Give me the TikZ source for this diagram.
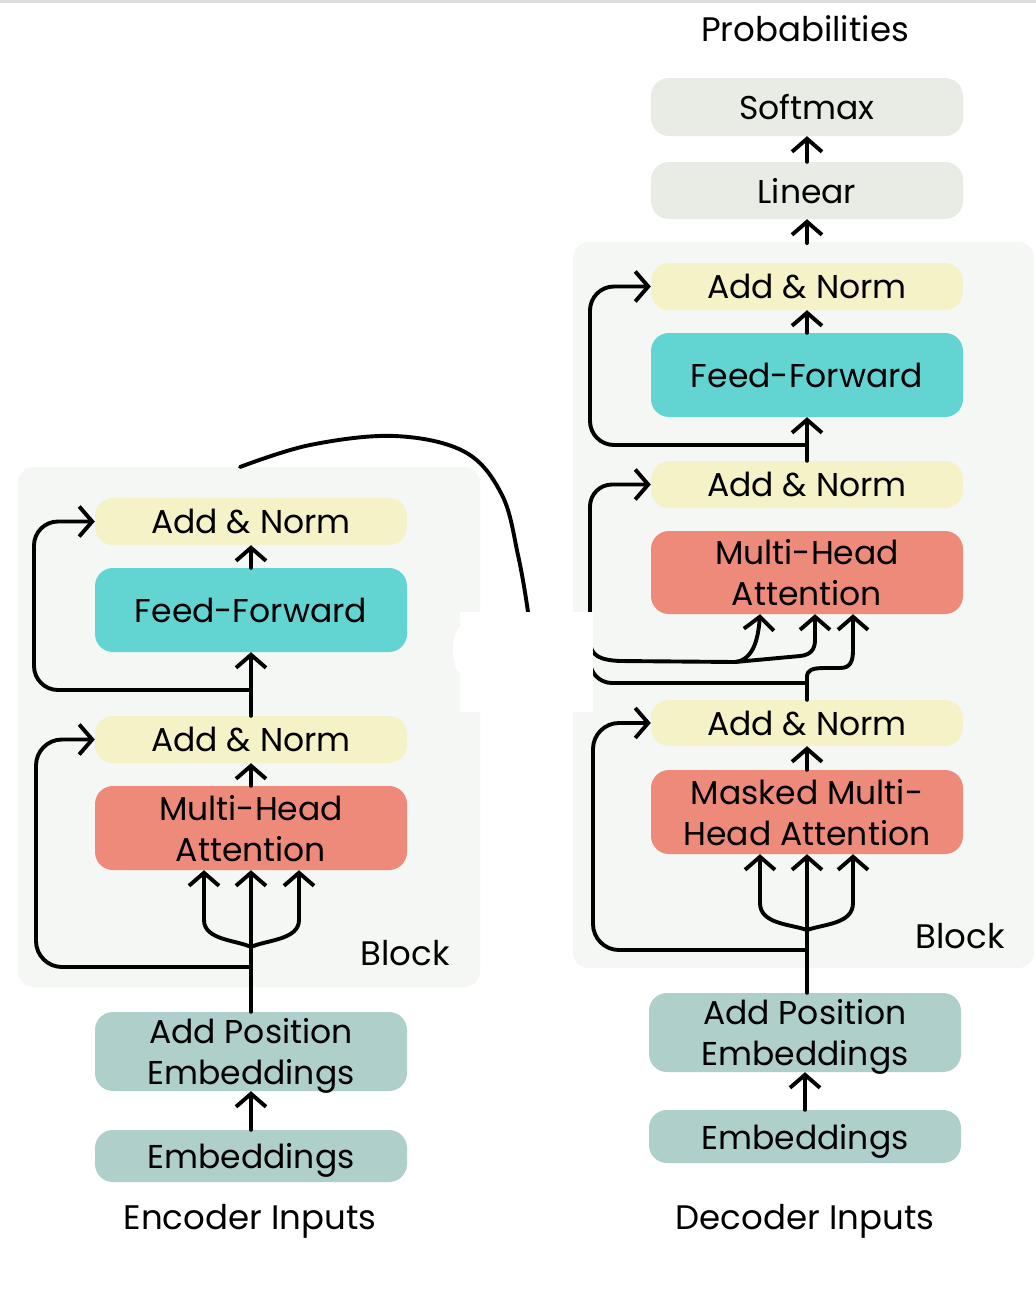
\documentclass[tikz,border=0pt]{standalone}
\usepackage{fontspec}
\setmainfont{Poppins}
\usetikzlibrary{arrows.meta}
\definecolor{panelc}{HTML}{F5F7F4}
\definecolor{creamc}{HTML}{F5F2C8}
\definecolor{cyanc}{HTML}{62D4D2}
\definecolor{salmonc}{HTML}{EE8A7A}
\definecolor{embc}{HTML}{AECFCA}
\definecolor{outc}{HTML}{E9ECE5}
\definecolor{topline}{HTML}{DDDDDD}
\begin{document}
\begin{tikzpicture}[x=1pt,y=-1pt,
  box/.style={rectangle, rounded corners=18pt, minimum width=312pt, inner sep=0pt, align=center, text depth=0pt, font=\fontsize{33}{41}\selectfont, text=black},
  ln/.style={line width=3.9pt, line cap=round, line join=round},
  arr/.style={ln, -{Straight Barb[length=13pt,width=30pt]}},
  lbl/.style={font=\fontsize{34}{40}\selectfont, text depth=0pt, text=black}]
\useasboundingbox (0,0) rectangle (1036,1310);
\fill[white] (0,0) rectangle (1036,1310);
\fill[topline] (0,0) rectangle (1036,3);
% panels
\fill[panelc, rounded corners=16pt] (18,467) rectangle (480,987);
\fill[panelc, rounded corners=16pt] (573,242) rectangle (1034,968);
% encoder boxes
\node[box, fill=creamc, minimum height=47pt] (ean2) at (251,521.5) {Add \& Norm};
\node[box, fill=cyanc, minimum height=84pt] (eff) at (251,610) {Feed-Forward};
\node[box, fill=creamc, minimum height=47pt] (ean1) at (251,739.5) {Add \& Norm};
\node[box, fill=salmonc, minimum height=84pt] (emha) at (251,828) {Multi-Head\\Attention};
\node[box, fill=embc, minimum height=79pt] (eape) at (251,1051.5) {Add Position\\Embeddings};
\node[box, fill=embc, minimum height=52pt] (eemb) at (251,1156) {Embeddings};
% decoder boxes
\node[box, fill=outc, minimum height=58pt] (dsm) at (807,107) {Softmax};
\node[box, fill=outc, minimum height=57pt] (dlin) at (807,190.5) {Linear};
\node[box, fill=creamc, minimum height=47pt] (dan3) at (807,286.5) {Add \& Norm};
\node[box, fill=cyanc, minimum height=84pt] (dff) at (807,375) {Feed-Forward};
\node[box, fill=creamc, minimum height=47pt] (dan2) at (807,484.5) {Add \& Norm};
\node[box, fill=salmonc, minimum height=83pt] (dmha) at (807,572.5) {Multi-Head\\Attention};
\node[box, fill=creamc, minimum height=46pt] (dan1) at (807,723) {Add \& Norm};
\node[box, fill=salmonc, minimum height=84pt] (dmmha) at (807,812) {Masked Multi-\\Head Attention};
\node[box, fill=embc, minimum height=79pt] (dape) at (805,1032.5) {Add Position\\Embeddings};
\node[box, fill=embc, minimum height=53pt] (demb) at (805,1136.5) {Embeddings};
% labels
\node[lbl] (prob) at (805,29) {Probabilities};
\node[lbl] (eblk) at (405,953) {Block};
\node[lbl] (dblk) at (960,936) {Block};
\node[lbl] (ein) at (250,1217) {Encoder Inputs};
\node[lbl] (din) at (805,1217) {Decoder Inputs};
% coordinates
\coordinate (efork) at (251,947);
\coordinate (eres0) at (251,967);
\coordinate (eres1) at (251,690);
\coordinate (dfork) at (807,930);
\coordinate (dres0) at (807,950);
\coordinate (dres1) at (807,683);
\coordinate (dres2) at (807,445);
\coordinate (dtop) at (807,243);
\coordinate (dsplit) at (735,662);
\coordinate (xstart) at (240,467);
% encoder connectors
\draw[arr] (eemb.north) -- (eape.south);
\draw[arr] (eape.north) -- (emha.south);
\draw[arr] (efork) .. controls (236,940) and (204,940) .. (204,920) -- ([xshift=-47pt]emha.south);
\draw[arr] (efork) .. controls (266,940) and (299,940) .. (299,920) -- ([xshift=48pt]emha.south);
\draw[arr, rounded corners=26pt] (eres0) -- (36,967) |- (ean1.west);
\draw[arr] (emha.north) -- (ean1.south);
\draw[arr] (ean1.north) -- (eff.south);
\draw[arr, rounded corners=24pt] (eres1) -- (34,690) |- (ean2.west);
\draw[arr] (eff.north) -- (ean2.south);
% decoder connectors
\draw[arr] (demb.north) -- (dape.south);
\draw[ln] ([xshift=2pt]dape.north) -- (dres0);
\draw[arr] (dres0) -- (dmmha.south);
\draw[arr] (dfork) .. controls (790,924) and (760,924) .. (760,903) -- ([xshift=-47pt]dmmha.south);
\draw[arr] (dfork) .. controls (824,924) and (853,924) .. (853,903) -- ([xshift=46pt]dmmha.south);
\draw[arr, rounded corners=26pt] (dres0) -- (593,950) |- (dan1.west);
\draw[arr] (dmmha.north) -- (dan1.south);
\draw[ln] (dan1.north) -- (dres1);
\draw[arr, rounded corners=22pt] (dres1) -- (590,683) |- (dan2.west);
\draw[arr] (dres1) -- (807,677) .. controls (807,670) and (812,668) .. (825,668) -- (840,668) .. controls (850,668) and (853,662) .. (853,650) -- ([xshift=46pt]dmha.south);
\draw[arr] (590,640) .. controls (590,656) and (600,660) .. (620,661) -- (dsplit) .. controls (752,660) and (758,642) .. ([xshift=-47pt]dmha.south);
\draw[arr] (dsplit) -- (800,656) .. controls (810,655) and (815,650) .. (815,640) -- ([xshift=8pt]dmha.south);
\draw[arr] (dan2.north) -- (dff.south);
\draw[arr, rounded corners=24pt] (dres2) -- (590,445) |- (dan3.west);
\draw[arr] (dff.north) -- (dan3.south);
\draw[arr] (dtop) -- (dlin.south);
\draw[arr] (dlin.north) -- (dsm.south);
% cross connection
\draw[ln] plot[smooth, tension=0.6] coordinates {(xstart) (310,445) (395,436) (465,452) (502,495) (518,555) (528,612) (530,640)};
% white patch
\fill[white] (460,612) rectangle (593,712);
\fill[white] (462,650) ellipse [x radius=9pt, y radius=24pt];
\end{tikzpicture}
\end{document}
